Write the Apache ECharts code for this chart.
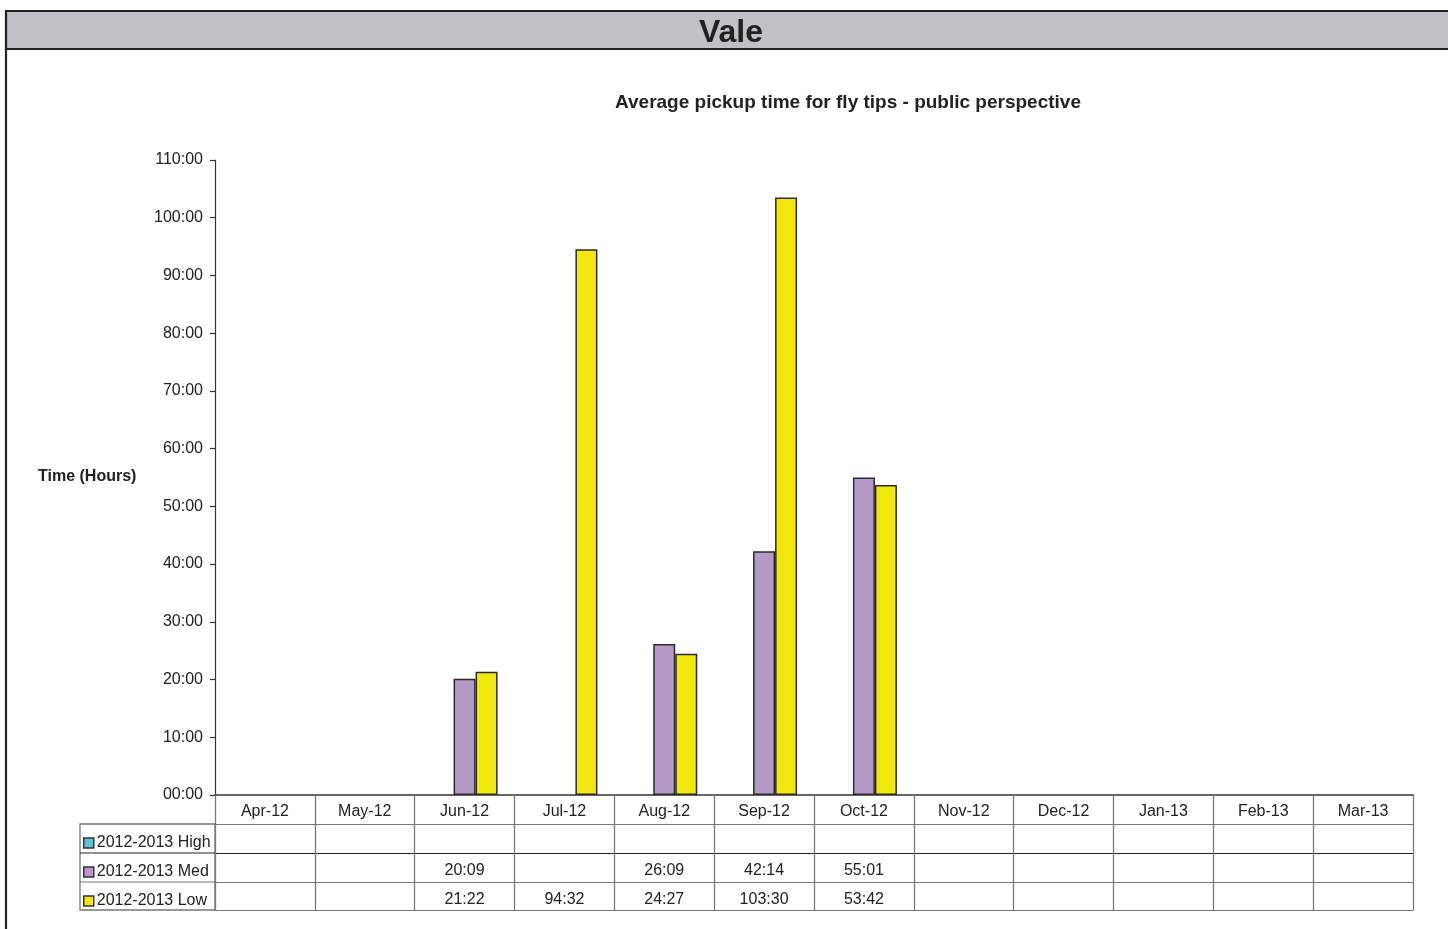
<!DOCTYPE html>
<html>
<head>
<meta charset="utf-8">
<title>Vale</title>
<script src="https://cdn.jsdelivr.net/npm/echarts@6/dist/echarts.min.js"></script>
<style>
  html, body { margin: 0; padding: 0; background: #fff; }
  #chart { width: 1448px; height: 929px; }
</style>
</head>
<body>
<div id="chart"></div>
<script>
// Months of the reporting year
const months = ['Apr-12', 'May-12', 'Jun-12', 'Jul-12', 'Aug-12', 'Sep-12',
                'Oct-12', 'Nov-12', 'Dec-12', 'Jan-13', 'Feb-13', 'Mar-13'];

// Average pickup times as hh:mm ('' = no reading)
const highTimes = ['', '', '', '', '', '', '', '', '', '', '', ''];
const medTimes  = ['', '', '20:09', '', '26:09', '42:14', '55:01', '', '', '', '', ''];
const lowTimes  = ['', '', '21:22', '94:32', '24:27', '103:30', '53:42', '', '', '', '', ''];

const seriesNames = ['2012-2013 High', '2012-2013 Med', '2012-2013 Low'];

// Y axis: hours, labelled as hh:00
const yMin = 0, yMax = 110, yStep = 10;

// Convert "hh:mm" into decimal hours
function toHours(t) {
  if (!t) return null;
  const [h, m] = t.split(':').map(Number);
  return h + m / 60;
}

const FONT = '"Liberation Sans", Arial, sans-serif';
const GRID = { left: 215, right: 35, top: 160, bottom: 134 };
const ROW = 29;          // height of one data-table row
const LEG_LEFT = 80;     // left edge of the legend column

const chart = echarts.init(document.getElementById('chart'), null, { renderer: 'canvas' });

// Bottom axes: one per data-table row, each drawing its row's values
function tableAxis(offset, labels, lineColor) {
  return {
    type: 'category',
    data: months,
    position: 'bottom',
    offset: offset,
    gridIndex: 0,
    axisLine: { show: true, lineStyle: { color: lineColor, width: 1.2 } },
    axisTick: { show: false },
    axisLabel: {
      show: !!labels,
      interval: 0,
      margin: 10,
      color: '#222',
      fontFamily: FONT,
      fontSize: 16,
      formatter: (v, i) => labels ? labels[i] : ''
    },
    splitLine: { show: false }
  };
}

const option = {
  animation: false,
  backgroundColor: '#fff',
  textStyle: { fontFamily: FONT },
  title: [
    {
      text: 'Vale',
      left: 731, top: 17, textAlign: 'center', padding: 0,
      textStyle: { fontFamily: FONT, fontSize: 32, fontWeight: 'bold', color: '#222' }
    },
    {
      text: 'Average pickup time for fly tips - public perspective',
      left: 848, top: 93, textAlign: 'center', padding: 0,
      textStyle: { fontFamily: FONT, fontSize: 19, fontWeight: 'bold', color: '#222' }
    },
    {
      text: 'Time (Hours)',
      left: 38, top: 469, padding: 0,
      textStyle: { fontFamily: FONT, fontSize: 16, fontWeight: 'bold', color: '#222' }
    }
  ],
  legend: {
    orient: 'vertical',
    left: LEG_LEFT + 3,
    top: 929 - GRID.bottom + ROW + 11,
    padding: 0,
    itemGap: 13,
    itemWidth: 10,
    itemHeight: 10,
    icon: 'rect',
    selectedMode: false,
    itemStyle: { borderColor: '#333', borderWidth: 1.5 },
    textStyle: { fontFamily: FONT, fontSize: 16, color: '#222', padding: [0, 0, 0, -2] },
    data: seriesNames
  },
  grid: { left: GRID.left, right: GRID.right, top: GRID.top, bottom: GRID.bottom, containLabel: false },
  xAxis: [
    {
      type: 'category',
      data: months,
      position: 'bottom',
      boundaryGap: true,
      axisLine: { show: true, lineStyle: { color: '#333', width: 1.5 } },
      axisTick: {
        show: true, interval: 0, inside: false,
        length: ROW * 4 - 1,
        lineStyle: { color: '#777', width: 1.3 }
      },
      axisLabel: { interval: 0, margin: 9, color: '#222', fontFamily: FONT, fontSize: 16 },
      splitLine: { show: false }
    },
    tableAxis(ROW, highTimes, '#777'),
    tableAxis(ROW * 2, medTimes, '#222'),
    tableAxis(ROW * 3, lowTimes, '#777'),
    tableAxis(ROW * 4 - 1, null, '#777')
  ],
  yAxis: {
    type: 'value',
    min: yMin, max: yMax, interval: yStep,
    axisLine: { show: true, lineStyle: { color: '#333', width: 1.2 } },
    axisTick: { show: true, length: 5, lineStyle: { color: '#333', width: 1.2 } },
    axisLabel: {
      margin: 12,
      padding: [6, 0, 0, 0],
      color: '#222', fontFamily: FONT, fontSize: 16,
      formatter: v => (v < 10 ? '0' + v : '' + v) + ':00'
    },
    splitLine: { show: false }
  },
  series: [
    {
      name: seriesNames[0], type: 'bar',
      data: highTimes.map(toHours),
      barWidth: 22, barGap: '0%',
      itemStyle: { color: '#5CC6D6', borderColor: '#2a2a2a', borderWidth: 1.5 }
    },
    {
      name: seriesNames[1], type: 'bar',
      data: medTimes.map(toHours),
      barWidth: 22, barGap: '0%',
      itemStyle: { color: '#B59AC8', borderColor: '#2a2a2a', borderWidth: 1.5 }
    },
    {
      name: seriesNames[2], type: 'bar',
      data: lowTimes.map(toHours),
      barWidth: 22, barGap: '0%',
      itemStyle: { color: '#F2E80E', borderColor: '#2a2a2a', borderWidth: 1.5 }
    }
  ]
};

chart.setOption(option);

// Frame: grey heading band, left page rule, and the legend column of the data table
const tableTop = 929 - GRID.bottom + ROW;
const tableBottom = 929 - GRID.bottom + ROW * 4 - 1;
chart.setOption({
  graphic: [
    {
      type: 'rect', z: -1,
      shape: { x: 6, y: 11, width: 1450, height: 38 },
      style: { fill: '#C0C1C4', stroke: '#222', lineWidth: 2.2 }
    },
    {
      type: 'line',
      shape: { x1: 6, y1: 49, x2: 6, y2: 929 },
      style: { stroke: '#222', lineWidth: 2.2 }
    },
    {
      type: 'rect', z: -1,
      shape: { x: LEG_LEFT, y: tableTop, width: GRID.left - LEG_LEFT, height: tableBottom - tableTop },
      style: { fill: 'none', stroke: '#777', lineWidth: 1.3 }
    },
    {
      type: 'line',
      shape: { x1: LEG_LEFT, y1: tableTop + ROW, x2: GRID.left, y2: tableTop + ROW },
      style: { stroke: '#222', lineWidth: 1.2 }
    },
    {
      type: 'line',
      shape: { x1: LEG_LEFT, y1: tableTop + ROW * 2, x2: GRID.left, y2: tableTop + ROW * 2 },
      style: { stroke: '#777', lineWidth: 1.2 }
    }
  ]
});
</script>
</body>
</html>
